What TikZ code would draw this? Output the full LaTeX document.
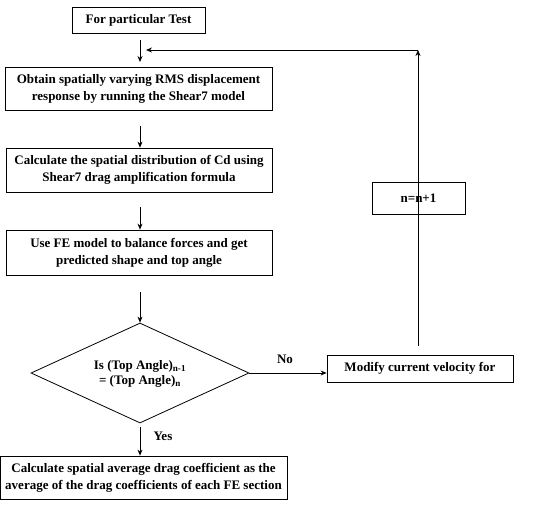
\documentclass[tikz,border=0pt]{standalone}
\usepackage{fontspec}
\setmainfont{Liberation Serif}
\usetikzlibrary{arrows.meta,shapes.geometric}
\begin{document}
\begin{tikzpicture}[x=1pt,y=-1pt,
  box/.style={draw,line width=0.8pt,inner sep=0pt,font=\bfseries\fontsize{13}{17}\selectfont,align=center},
  conn/.style={line width=0.7pt,-{Stealth[length=6pt,width=5pt]}},
  lbl/.style={font=\bfseries\fontsize{13}{15}\selectfont}]
\useasboundingbox (0,0) rectangle (552,515);
\node[box,minimum width=133,minimum height=26] (b1) at (138.5,20) {For particular Test};
\node[box,minimum width=267,minimum height=43] (b2) at (138.5,88.5) {Obtain spatially varying RMS displacement\\response by running the Shear7 model};
\node[box,minimum width=266,minimum height=44] (b3) at (139,170) {Calculate the spatial distribution of Cd using\\Shear7 drag amplification formula};
\node[box,minimum width=266,minimum height=45] (b4) at (139,252.5) {Use FE model to balance forces and get\\predicted shape and top angle};
\node[draw,line width=0.8pt,diamond,minimum width=218,minimum height=100,inner sep=0pt] (d) at (140,373) {};
\node[lbl,align=center] (dt) at (140,374) {Is (Top Angle)\textsubscript{n-1}\\= (Top Angle)\textsubscript{n}};
\node[box,minimum width=186,minimum height=27] (m) at (420,368.5) {Modify current velocity for};
\node[box,minimum width=93,minimum height=32] (n) at (418.5,198) {n=n+1};
\node[box,minimum width=287,minimum height=43] (b5) at (143.5,477.5) {Calculate spatial average drag coefficient as the\\average of the drag coefficients of each FE section};
\coordinate (a1s) at (140,40);
\coordinate (a1e) at (140,62);
\draw[conn] (a1s) -- (a1e);
\coordinate (a2s) at (140,126);
\draw[conn] (a2s) -- (b3.north -| a2s);
\coordinate (a3s) at (140,207);
\draw[conn] (a3s) -- (b4.north -| a3s);
\coordinate (a4s) at (140,292);
\draw[conn] (a4s) -- (d.north);
\coordinate (a5s) at (140,427);
\draw[conn] (a5s) -- (b5.north -| a5s);
\node[lbl,anchor=west] (yes) at (150,436) {Yes};
\draw[conn] (d.east) -- (m.west |- d.east);
\node[lbl] (no) at (285,359) {No};
\coordinate (top) at (418,50);
\coordinate (mt) at (418,346);
\coordinate (back) at (146,50);
\draw[conn] (mt) -- (top);
\draw[conn] (top) -- (back);
\end{tikzpicture}
\end{document}
